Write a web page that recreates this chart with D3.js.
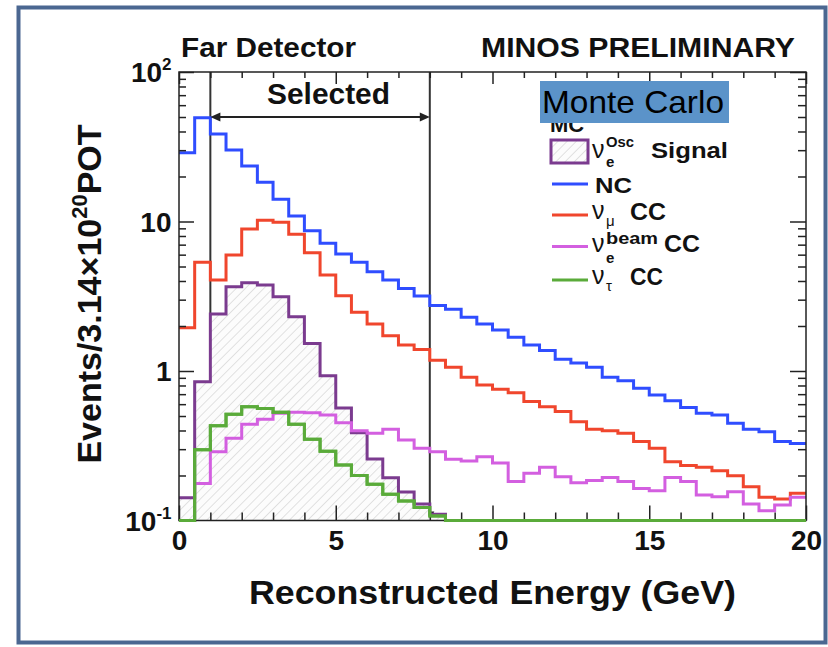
<!DOCTYPE html>
<html><head><meta charset="utf-8">
<script src="https://cdn.jsdelivr.net/npm/d3@7"></script>
<style>html,body{margin:0;padding:0;background:#fff;} svg{display:block;}</style>
</head><body>
<svg id="chart" width="828" height="647"></svg>
<script>
// Reconstructed-energy histograms, 0.5 GeV bins from 0 to 20 GeV
const binLow = [0,0.5,1,1.5,2,2.5,3,3.5,4,4.5,5,5.5,6,6.5,7,7.5,8,8.5,9,9.5,
                10,10.5,11,11.5,12,12.5,13,13.5,14,14.5,15,15.5,16,16.5,17,17.5,18,18.5,19,19.5];
const binHigh = 20;

// Events per 3.14e20 POT (values under 0.1 sit on the axis floor)
const signalOsc = [0.142,0.848,2.41,3.66,3.90,3.76,3.14,2.31,1.53,0.93,0.566,0.386,0.258,0.193,0.155,0.129,0.11,
                   0.05,0.05,0.05,0.05,0.05,0.05,0.05,0.05,0.05,0.05,0.05,0.05,0.05,0.05,0.05,0.05,0.05,0.05,0.05,0.05,0.05,0.05,0.05];
const ncEvents = [28.8,49.4,38.5,30.1,23.5,18.3,14.1,10.9,8.68,7.15,6.06,5.33,4.62,4.06,3.57,3.17,2.74,2.59,2.29,2.06,
                  1.88,1.68,1.49,1.37,1.20,1.13,1.06,0.908,0.862,0.766,0.690,0.632,0.571,0.521,0.508,0.447,0.407,0.393,0.337,0.328];
const numuCC = [1.95,5.33,4.06,5.97,8.91,10.2,9.88,8.21,6.18,4.39,3.19,2.47,2.06,1.72,1.49,1.39,1.18,1.06,0.908,0.806,
                0.755,0.716,0.624,0.577,0.535,0.458,0.407,0.399,0.383,0.337,0.304,0.247,0.233,0.227,0.215,0.199,0.168,0.143,0.139,0.152];
const nueBeamCC = [0.05,0.177,0.288,0.355,0.441,0.475,0.521,0.530,0.526,0.508,0.451,0.399,0.383,0.407,0.345,0.304,0.288,0.257,0.250,0.267,
                   0.242,0.182,0.207,0.227,0.196,0.179,0.185,0.194,0.182,0.164,0.158,0.194,0.182,0.148,0.144,0.156,0.129,0.116,0.127,0.143];
const nutauCC = [0.05,0.297,0.430,0.513,0.577,0.562,0.530,0.441,0.35,0.29,0.235,0.20,0.175,0.15,0.135,0.122,0.107,
                 0.05,0.05,0.05,0.05,0.05,0.05,0.05,0.05,0.05,0.05,0.05,0.05,0.05,0.05,0.05,0.05,0.05,0.05,0.05,0.05,0.05,0.05,0.05];

const xMajorTicks = [0,5,10,15,20];
const xMinorTicks = [1,2,3,4,6,7,8,9,11,12,13,14,16,17,18,19];
const yMajorTicks = [0.1,1,10,100];
const yMinorTicks = [0.2,0.3,0.4,0.5,0.6,0.7,0.8,0.9,2,3,4,5,6,7,8,9,20,30,40,50,60,70,80,90];
const yTickLabels = [{v:0.1,base:"10",exp:"-1"},{v:1,base:"1",exp:""},{v:10,base:"10",exp:""},{v:100,base:"10",exp:"2"}];
const selectedCut = [1, 8];

const C = {
  signal:"#7b3b8f", nc:"#2f4dff", numu:"#f0462d", nue:"#d35fe0", nutau:"#5aab3a",
  frame:"#4b6791", mcBox:"#5b93c9", hatch:"#d6d6d6"
};
const FONT = "'Liberation Sans', Arial, Helvetica, sans-serif";

const svg = d3.select("#chart");
svg.append("rect").attr("width",828).attr("height",647).attr("fill","#fff");

const defs = svg.append("defs");
const pat = defs.append("pattern").attr("id","hatch").attr("patternUnits","userSpaceOnUse")
  .attr("width",6.5).attr("height",6.5).attr("patternTransform","rotate(45)");
pat.append("rect").attr("width",6.5).attr("height",6.5).attr("fill","#fcfcfc");
pat.append("line").attr("x1",0).attr("y1",0).attr("x2",0).attr("y2",6.5)
  .attr("stroke",C.hatch).attr("stroke-width",1.4);

// slide border
svg.append("rect").attr("x",18.5).attr("y",7.5).attr("width",807).attr("height",635)
  .attr("fill","none").attr("stroke",C.frame).attr("stroke-width",4);

const L = 179, R = 806, T = 72, B = 520.5;
const x = d3.scaleLinear().domain([0,20]).range([L,R]);
const y = d3.scaleLog().domain([0.1,100]).range([B,T]);
const floorV = 0.1;
const yPos = v => y(Math.max(v, floorV));

function stepPoints(vals){
  const pts = binLow.map((b,i)=>[b, vals[i]]);
  pts.push([binHigh, vals[vals.length-1]]);
  return pts;
}

// Selection lines with down arrows
const cutG = svg.append("g");
selectedCut.forEach(c=>{
  cutG.append("line").attr("x1",x(c)).attr("x2",x(c)).attr("y1",T).attr("y2",B-6)
    .attr("stroke","#333").attr("stroke-width",2);
  cutG.append("path").attr("d",`M${x(c)-4.5},${B-9} L${x(c)+4.5},${B-9} L${x(c)},${B} Z`).attr("fill","#222");
});

// Signal histogram (hatched)
const area = d3.area().x(d=>x(d[0])).y0(B).y1(d=>yPos(d[1])).curve(d3.curveStepAfter);
const line = d3.line().x(d=>x(d[0])).y(d=>yPos(d[1])).curve(d3.curveStepAfter);
svg.append("path").attr("d",area(stepPoints(signalOsc))).attr("fill","url(#hatch)");

const series = [
  {vals:signalOsc,color:C.signal},
  {vals:ncEvents,color:C.nc},
  {vals:numuCC,color:C.numu},
  {vals:nueBeamCC,color:C.nue},
  {vals:nutauCC,color:C.nutau}
];
series.forEach(s=>{
  svg.append("path").attr("d",line(stepPoints(s.vals))).attr("fill","none")
    .attr("stroke",s.color).attr("stroke-width",3).attr("stroke-linejoin","miter");
});

// Selected range arrow
const arrY = 117;
svg.append("line").attr("x1",x(selectedCut[0])+8).attr("x2",x(selectedCut[1])-8)
  .attr("y1",arrY).attr("y2",arrY).attr("stroke","#222").attr("stroke-width",2);
svg.append("path").attr("d",`M${x(selectedCut[0])},${arrY} l10,-4.5 l0,9 Z`).attr("fill","#222");
svg.append("path").attr("d",`M${x(selectedCut[1])},${arrY} l-10,-4.5 l0,9 Z`).attr("fill","#222");

// Frame and ticks
const axG = svg.append("g");
function styleAxis(g){ g.select(".domain").remove(); g.selectAll("line").attr("stroke","#222").attr("stroke-width",1.5); g.selectAll("text").remove(); }
axG.append("g").attr("transform",`translate(0,${B})`).call(d3.axisBottom(x).tickValues(xMajorTicks).tickSize(-15).tickSizeOuter(0)).call(styleAxis);
axG.append("g").attr("transform",`translate(0,${B})`).call(d3.axisBottom(x).tickValues(xMinorTicks).tickSize(-8).tickSizeOuter(0)).call(styleAxis);
axG.append("g").attr("transform",`translate(0,${T})`).call(d3.axisTop(x).tickValues(xMajorTicks).tickSize(-12).tickSizeOuter(0)).call(styleAxis);
axG.append("g").attr("transform",`translate(0,${T})`).call(d3.axisTop(x).tickValues(xMinorTicks).tickSize(-6).tickSizeOuter(0)).call(styleAxis);
axG.append("g").attr("transform",`translate(${L},0)`).call(d3.axisLeft(y).tickValues(yMajorTicks).tickSize(-15).tickSizeOuter(0)).call(styleAxis);
axG.append("g").attr("transform",`translate(${L},0)`).call(d3.axisLeft(y).tickValues(yMinorTicks).tickSize(-7).tickSizeOuter(0)).call(styleAxis);
axG.append("g").attr("transform",`translate(${R},0)`).call(d3.axisRight(y).tickValues(yMajorTicks).tickSize(-16).tickSizeOuter(0)).call(styleAxis);
axG.append("g").attr("transform",`translate(${R},0)`).call(d3.axisRight(y).tickValues(yMinorTicks).tickSize(-8).tickSizeOuter(0)).call(styleAxis);
svg.append("rect").attr("x",L).attr("y",T).attr("width",R-L).attr("height",B-T)
  .attr("fill","none").attr("stroke","#222").attr("stroke-width",1.5);
// nu_tau outline again so its floor segment stays on top of the frame
svg.append("path").attr("d",line(stepPoints(nutauCC))).attr("fill","none")
  .attr("stroke",C.nutau).attr("stroke-width",3);

// X tick labels
const xl = svg.append("g").attr("transform",`translate(0,${B})`)
  .call(d3.axisBottom(x).tickValues(xMajorTicks).tickSize(0).tickPadding(10).tickFormat(d3.format("d")));
xl.select(".domain").remove();
xl.selectAll("text").attr("font-family",FONT).attr("font-weight","bold").attr("font-size",28).attr("fill","#111");

// Y tick labels with exponents
const yl = svg.append("g");
yTickLabels.forEach(t=>{
  const tx = yl.append("text").attr("x",171.5).attr("y",y(t.v)+10).attr("text-anchor","end")
    .attr("font-family",FONT).attr("font-weight","bold").attr("font-size",28).attr("fill","#111");
  tx.append("tspan").text(t.base);
  if(t.exp) tx.append("tspan").attr("font-size",17).attr("dy",-12).text(t.exp);
});

function txt(str,xp,yp,size,opts={}){
  const t = svg.append("text").attr("x",xp).attr("y",yp).attr("font-family",opts.family||FONT)
    .attr("font-weight",opts.weight||"bold").attr("font-size",size).attr("fill",opts.fill||"#111")
    .attr("text-anchor",opts.anchor||"start").text(str);
  if(opts.len) t.attr("textLength",opts.len).attr("lengthAdjust","spacingAndGlyphs");
  return t;
}

txt("Far Detector",181,57,27,{len:175});
txt("MINOS PRELIMINARY",481,57,27,{len:314});
txt("Selected",267,104,29,{len:123});
txt("Reconstructed Energy (GeV)",249,604,33,{len:487});

// Y axis title
const yt = svg.append("text").attr("transform","translate(101,294) rotate(-90)")
  .attr("text-anchor","middle").attr("font-family",FONT).attr("font-weight","bold")
  .attr("font-size",34).attr("fill","#111");
yt.append("tspan").text("Events/3.14×10");
yt.append("tspan").attr("font-size",22).attr("dy",-14).text("20");
yt.append("tspan").attr("dy",14).text("POT");

// Legend header ("MC" sits partly under the Monte Carlo banner)
txt("MC",550,132,22);
svg.append("rect").attr("x",540).attr("y",81).attr("width",189).attr("height",42).attr("fill",C.mcBox);
txt("Monte Carlo",542,113,32,{weight:"normal",len:182,fill:"#000"});

// one text element per legend label: nu, sub/superscripts and the channel name
function legendLabel(baseY, parts){
  const t = svg.append("text").attr("font-family",FONT).attr("font-weight","bold").attr("fill","#111");
  t.append("tspan").attr("x",592).attr("y",baseY).attr("font-size",25).attr("font-weight","normal").text("ν");
  parts.forEach(p=>{
    const s = t.append("tspan").attr("x",p.x).attr("y",p.y).attr("font-size",p.size)
      .attr("font-weight",p.weight||"bold").text(p.s);
    if(p.len) s.attr("textLength",p.len).attr("lengthAdjust","spacingAndGlyphs");
  });
}
svg.append("rect").attr("x",551).attr("y",140).attr("width",37).attr("height",23)
  .attr("fill","url(#hatch)").attr("stroke",C.signal).attr("stroke-width",3);
legendLabel(158,[{s:"Osc",x:606,y:147,size:15,len:28},{s:"e",x:606,y:167,size:15},{s:"Signal",x:651,y:158,size:22,len:77}]);

const legLines = [{c:C.nc,y:184},{c:C.numu,y:215},{c:C.nue,y:246.5},{c:C.nutau,y:280}];
legLines.forEach(l=>svg.append("line").attr("x1",552).attr("x2",588).attr("y1",l.y).attr("y2",l.y)
  .attr("stroke",l.c).attr("stroke-width",3));
txt("NC",595,192.5,22,{len:37});
legendLabel(219,[{s:"μ",x:606,y:225.5,size:15,weight:"normal"},{s:"CC",x:630,y:220,size:23,len:36}]);
legendLabel(251.5,[{s:"beam",x:606,y:244,size:16,len:52},{s:"e",x:606,y:263,size:15},{s:"CC",x:664,y:251.5,size:23,len:36}]);
legendLabel(284,[{s:"τ",x:606,y:291,size:15,weight:"normal"},{s:"CC",x:630,y:285,size:23,len:33}]);
</script>
</body></html>
